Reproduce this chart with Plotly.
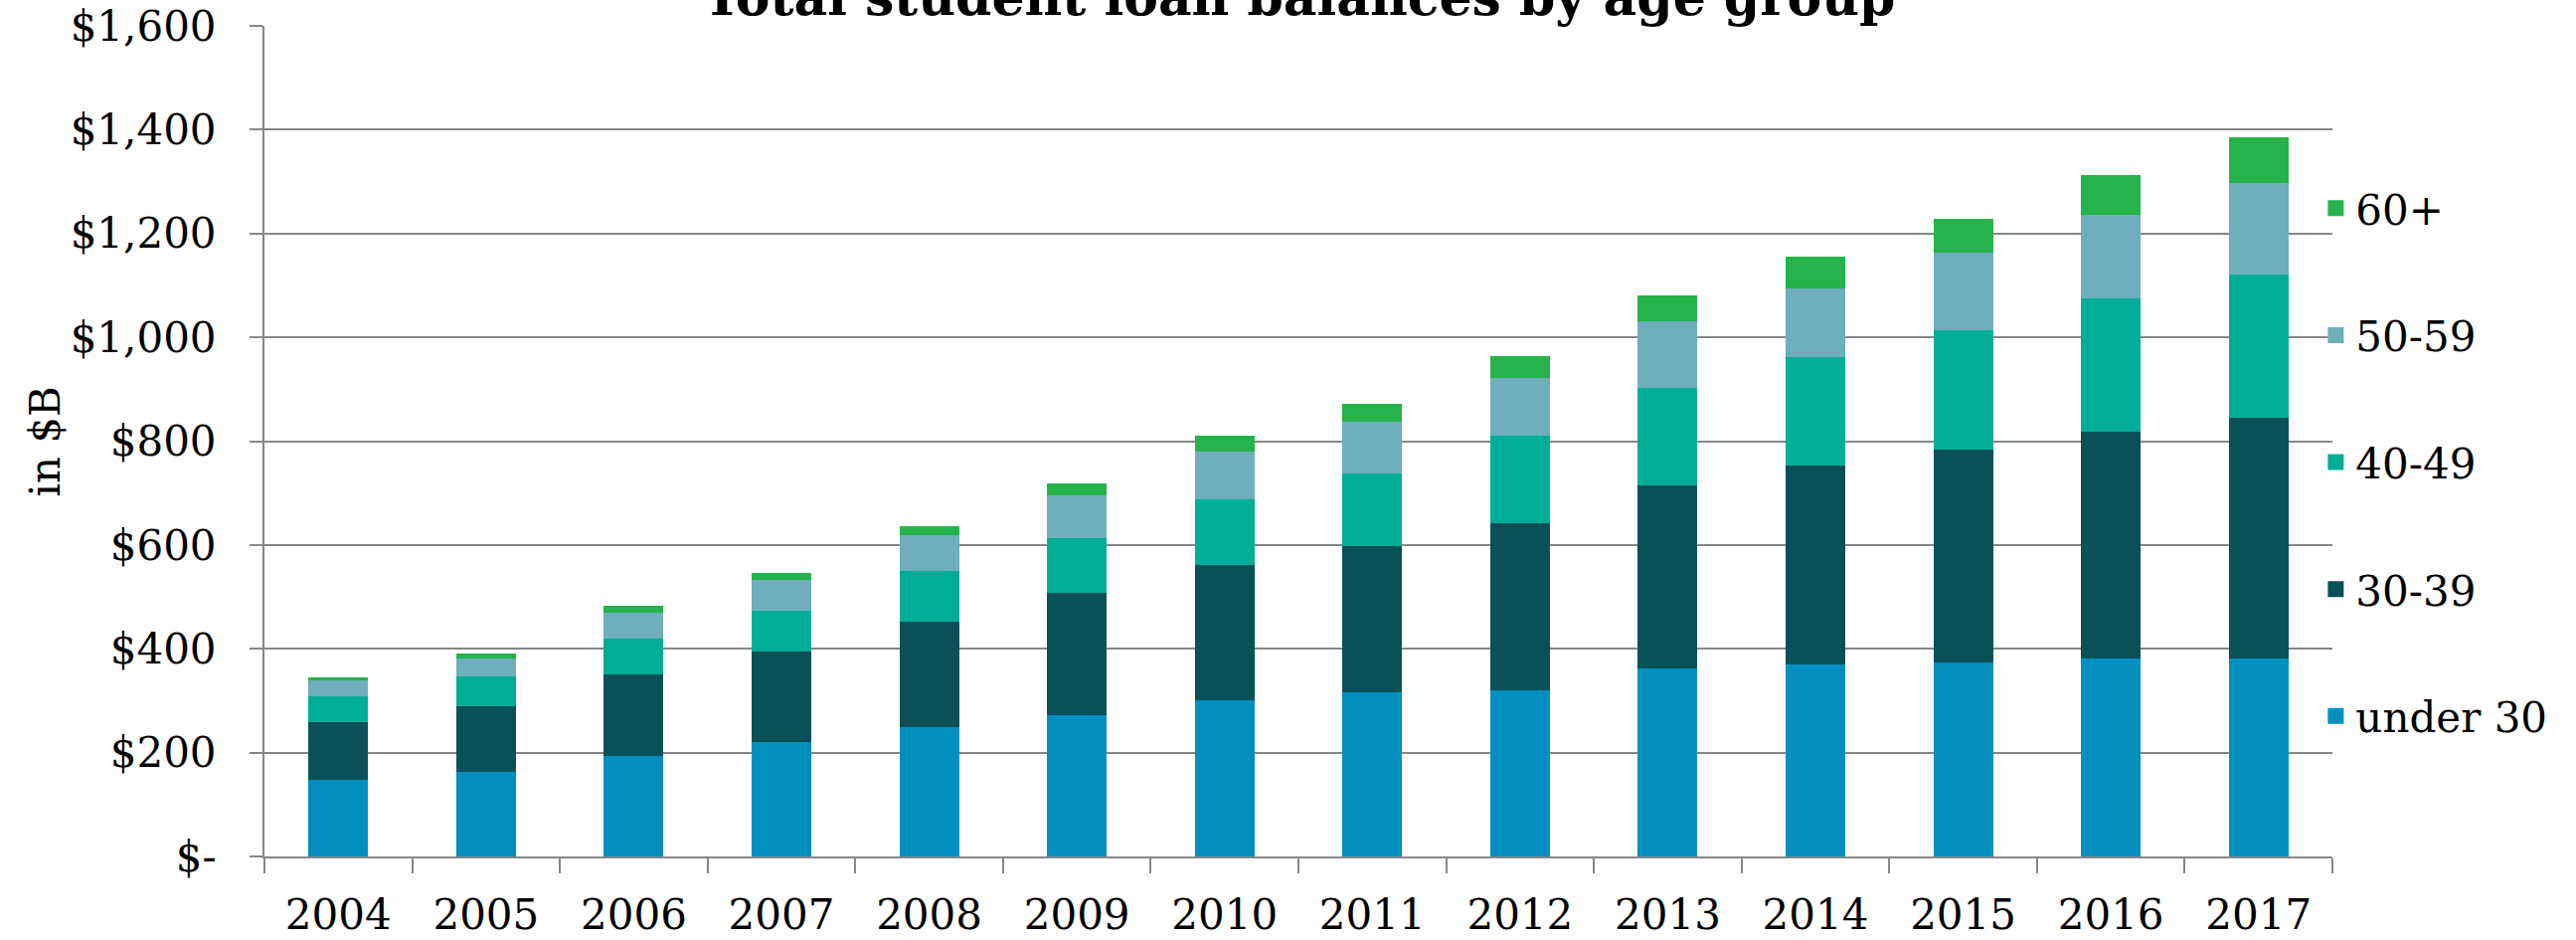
import plotly.graph_objects as go

years = ["2004", "2005", "2006", "2007", "2008", "2009", "2010",
         "2011", "2012", "2013", "2014", "2015", "2016", "2017"]

under_30 = [147, 163, 194, 220, 250, 273, 300, 317, 320, 363, 370, 373, 381, 381]
age_30_39 = [112, 127, 157, 174, 203, 234, 261, 280, 322, 352, 383, 410, 437, 464]
age_40_49 = [50, 57, 69, 80, 96, 107, 126, 141, 169, 188, 208, 231, 257, 276]
age_50_59 = [31, 35, 50, 58, 69, 81, 92, 100, 111, 127, 134, 149, 161, 177]
age_60_plus = [4, 8, 12, 15, 19, 23, 31, 34, 42, 50, 61, 66, 77, 88]

series_names = ["under 30", "30-39", "40-49", "50-59", "60+"]
series_values = [under_30, age_30_39, age_40_49, age_50_59, age_60_plus]
series_colors = ["#028FC0", "#095157", "#00AE97", "#6EAEBD", "#26B34B"]

y_tickvals = [0, 200, 400, 600, 800, 1000, 1200, 1400, 1600]
y_ticktext = ["$-", "$200", "$400", "$600", "$800", "$1,000", "$1,200", "$1,400", "$1,600"]

title_text = "Total student loan balances by age group"
y_title = "in $B"

FONT = "DejaVu Serif"
GRID = "#878787"

fig = go.Figure()
n = len(series_names)
for i, (name, vals, col) in enumerate(zip(series_names, series_values, series_colors)):
    fig.add_trace(go.Bar(
        x=years, y=vals, name=name, legendgroup=name,
        marker=dict(color=col, line=dict(width=0)),
        hoverinfo="x+y+name",
        showlegend=False,
    ))
    # legend entry (square swatch, drawn by the legend itself)
    fig.add_trace(go.Scatter(
        x=[None], y=[None], name=name, legendgroup=name,
        mode="markers",
        marker=dict(symbol="square", size=24, color=col, line=dict(width=0)),
        showlegend=True, legendrank=n - i, hoverinfo="skip",
    ))

fig.update_layout(
    barmode="stack",
    bargap=0.596,
    width=2591, height=945,
    autosize=False,
    margin=dict(l=266, r=245, t=26, b=84, pad=0, autoexpand=False),
    paper_bgcolor="white", plot_bgcolor="white",
    font=dict(family=FONT, size=42, color="black"),
    showlegend=True,
    legend=dict(
        traceorder="grouped",
        x=0.992, xanchor="left", xref="paper",
        y=0.4748, yanchor="middle",
        font=dict(family=FONT, size=42, color="black"),
        tracegroupgap=70,
        bgcolor="rgba(0,0,0,0)", borderwidth=0,
    ),
    xaxis=dict(
        type="category",
        automargin=False,
        tickson="boundaries",
        ticks="outside", ticklen=15, tickwidth=2, tickcolor=GRID,
        showline=True, linecolor=GRID, linewidth=2,
        showgrid=False, zeroline=False,
        tickfont=dict(family=FONT, size=42, color="black"),
        ticklabelstandoff=21,
    ),
    yaxis=dict(
        range=[0, 1600],
        automargin=False,
        tickvals=y_tickvals, ticktext=y_ticktext,
        ticks="outside", ticklen=13, tickwidth=2, tickcolor=GRID,
        showline=True, linecolor=GRID, linewidth=2,
        showgrid=True, gridcolor=GRID, gridwidth=2,
        zeroline=False,
        tickfont=dict(family=FONT, size=42, color="black"),
        ticklabelstandoff=25,
    ),
    annotations=[
        dict(
            text="<b>" + title_text + "</b>",
            xref="paper", yref="paper", x=0.5, y=1.0,
            xanchor="center", yanchor="bottom", yshift=-3,
            showarrow=False,
            font=dict(family=FONT, size=52, color="black"),
        ),
        dict(
            text=y_title,
            xref="paper", yref="paper", x=-0.1058, y=0.5,
            xanchor="center", yanchor="middle", textangle=-90,
            showarrow=False,
            font=dict(family=FONT, size=42, color="black"),
        ),
    ],
)

fig.write_html("out.html")
